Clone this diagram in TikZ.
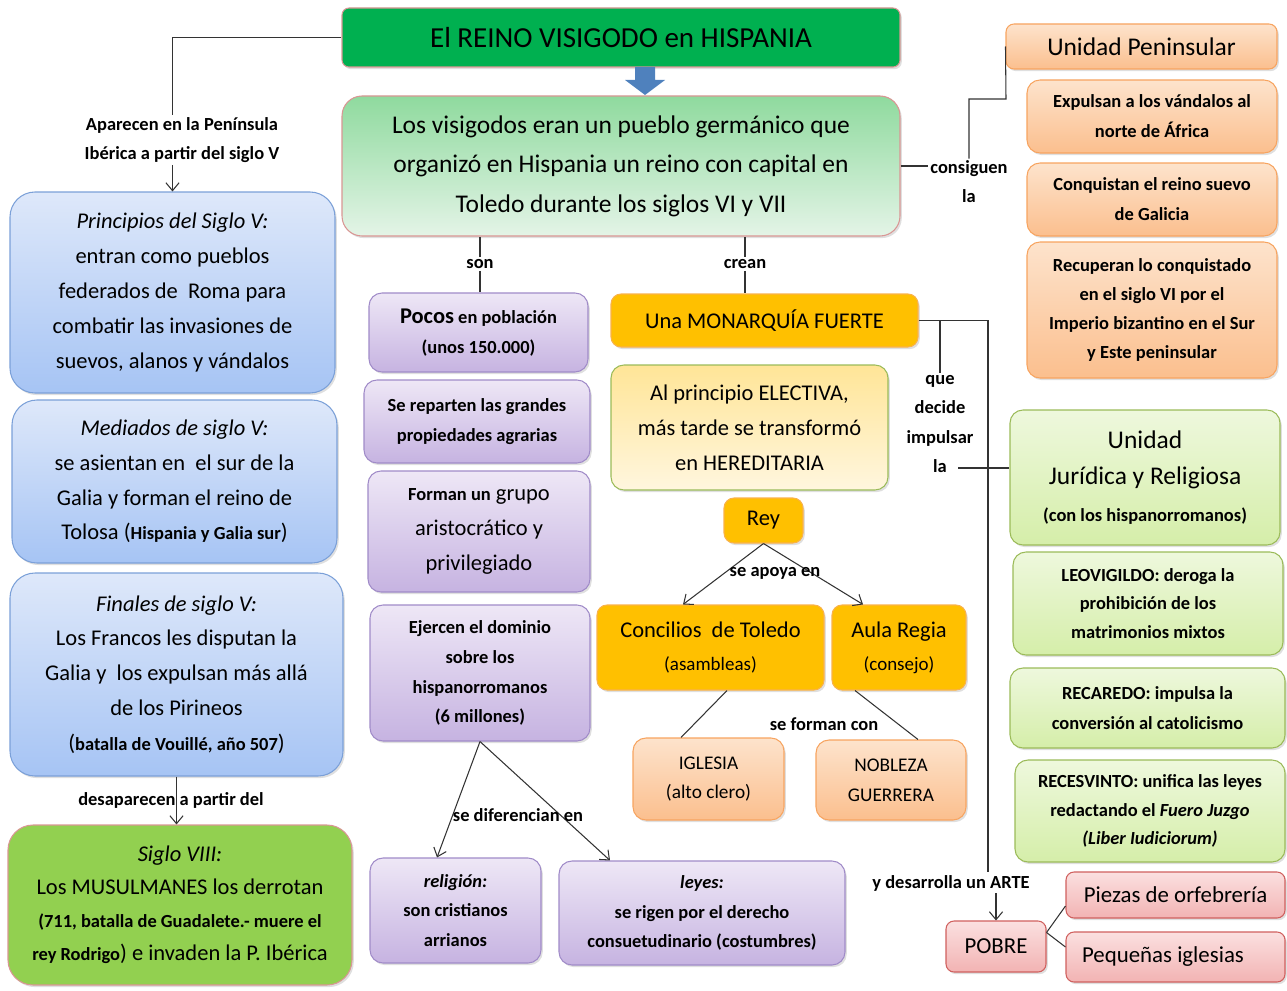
\documentclass[tikz,border=0pt]{standalone}
\usepackage{fontspec}
\setmainfont{Carlito}
\usetikzlibrary{shadows,arrows.meta}

\definecolor{titlegreen}{HTML}{00B050}
\definecolor{arrowblue}{HTML}{4F81BD}
\definecolor{rimred}{HTML}{D99694}
\definecolor{maintop}{HTML}{8FDA9E}
\definecolor{mainbot}{HTML}{E4F4E7}
\definecolor{bluetop}{HTML}{DEE8FA}
\definecolor{bluebot}{HTML}{A6C4F4}
\definecolor{bluerim}{HTML}{7BA0D8}
\definecolor{leafgreen}{HTML}{92D050}
\definecolor{lilactop}{HTML}{EEE7F6}
\definecolor{lilacbot}{HTML}{C6B3E1}
\definecolor{lilacrim}{HTML}{A08BC8}
\definecolor{gold}{HTML}{FFC000}
\definecolor{goldrim}{HTML}{F9B24A}
\definecolor{creamtop}{HTML}{FFE597}
\definecolor{creambot}{HTML}{FFF6DE}
\definecolor{olive}{HTML}{9BBB59}
\definecolor{peachtop}{HTML}{FDE3CC}
\definecolor{peachbot}{HTML}{FBBF8E}
\definecolor{peachrim}{HTML}{F7A460}
\definecolor{limetop}{HTML}{EEF8DD}
\definecolor{limebot}{HTML}{D5EEA9}
\definecolor{rosetop}{HTML}{FBE0E0}
\definecolor{rosebot}{HTML}{F2B3B3}
\definecolor{roserim}{HTML}{D0605E}

\newcommand\ftitle{\fontsize{16.5}{20}\selectfont}
\newcommand\fbig{\fontsize{14.5}{22.4}\selectfont}
\newcommand\fmid{\fontsize{12.8}{19.8}\selectfont}
\newcommand\fsml{\fontsize{10.5}{17}\selectfont\bfseries}
\newcommand\flbl{\fontsize{10.5}{16.6}\selectfont\bfseries}

\begin{document}
\begin{tikzpicture}[x=0.02cm, y=-0.02cm, line width=0.6pt, >={Straight Barb[length=4.5pt,width=7.5pt]},
  dims/.style 2 args={minimum width=#1*0.02cm, minimum height=#2*0.02cm}]
	\tikzstyle{box}=[draw, rounded corners=0.26cm, align=center, inner sep=0pt,
	  drop shadow={opacity=0.25, shadow xshift=1pt, shadow yshift=-1.2pt}]
	\tikzstyle{bluebox}=[box, top color=bluetop, bottom color=bluebot, draw=bluerim, rounded corners=0.5cm, font=\fmid]
	\tikzstyle{lilacbox}=[box, top color=lilactop, bottom color=lilacbot, draw=lilacrim, font=\fsml]
	\tikzstyle{goldbox}=[box, fill=gold, draw=goldrim, rounded corners=0.2cm, font=\fmid]
	\tikzstyle{peachbox}=[box, top color=peachtop, bottom color=peachbot, draw=peachrim, font=\fsml]
	\tikzstyle{limebox}=[box, top color=limetop, bottom color=limebot, draw=olive, font=\fsml]
	\tikzstyle{rosebox}=[box, top color=rosetop, bottom color=rosebot, draw=roserim, rounded corners=0.16cm, font=\fontsize{13}{16}\selectfont]
	\tikzstyle{lbl}=[font=\flbl, align=center, inner sep=1pt]
	\tikzstyle{link}=[draw=black!80]

	\useasboundingbox (0,0) rectangle (1287,990);

	% Title and main idea
	\node[box, fill=titlegreen, draw=rimred, rounded corners=0.14cm, dims={558}{59}, font=\ftitle] (title) at (621,37.5) {El REINO VISIGODO en HISPANIA};
	\fill[arrowblue] (635,67) -- (655,67) -- (655,80) -- (665,80) -- (645,95) -- (625,80) -- (635,80) -- cycle;
	\node[box, top color=maintop, bottom color=mainbot, draw=rimred, rounded corners=0.4cm, dims={558}{140}, font=\fbig] (main) at (621,166)
	  {Los visigodos eran un pueblo germánico que\\organizó en Hispania un reino con capital en\\Toledo durante los siglos VI y VII};

	% Left column: the centuries
	\node[bluebox, dims={325}{201}] (P1) at (172.5,292.5)
	  {\textit{Principios del Siglo V:}\\entran como pueblos\\federados de~ Roma para\\combatir las invasiones de\\suevos, alanos y vándalos};
	\node[bluebox, dims={325}{163}] (P2) at (174.5,481.5)
	  {\textit{Mediados de siglo V:}\\se asientan en~ el sur de la\\Galia y forman el reino de\\Tolosa ({\fsml Hispania y Galia sur})};
	\node[bluebox, dims={333}{203}] (P3) at (176.5,674.5)
	  {\textit{Finales de siglo V:}\\Los Francos les disputan la\\Galia y~ los expulsan más allá\\de los Pirineos\\({\fsml batalla de Vouillé, año 507})};
	\node[box, fill=leafgreen, draw=rimred, rounded corners=0.5cm, dims={344}{160}, font=\fontsize{12.8}{18.7}\selectfont] (P4) at (180,905)
	  {\textit{Siglo VIII:}\\Los MUSULMANES los derrotan\\{\fsml (711, batalla de Guadalete.- muere el}\\{\fsml rey Rodrigo}) e invaden la P. Ibérica};

	\node[lbl] (lblap) at (182,140) {Aparecen en la Península\\Ibérica a partir del siglo V};
	\draw[link] (title.west) -| (P1.north |- lblap.north);
	\draw[link,->] (P1.north |- lblap.south) -- (P1.north);
	\draw[link,->] (P3.south) -- (P3.south |- P4.north);
	\node[lbl] (lbldes) at (171,800) {desaparecen a partir del};

	% Middle column: the people
	\node[lilacbox, dims={219}{79}] (U1) at (478.5,332.5) {{\fmid Pocos} en población\\(unos 150.000)};
	\node[lilacbox, dims={226}{83}] (U2) at (477,421.5) {Se reparten las grandes\\propiedades agrarias};
	\node[lilacbox, dims={222}{121}, font=\fmid] (U3) at (479,531.5) {{\fsml Forman un} grupo\\aristocrático y\\privilegiado};
	\node[lilacbox, dims={220}{136}] (U4) at (480,673) {Ejercen el dominio\\sobre los\\hispanorromanos\\(6 millones)};
	\node[lilacbox, dims={171}{105}] (U5) at (455.5,910.5) {\textit{religión:}\\son cristianos\\arrianos};
	\node[lilacbox, dims={286}{104}] (U6) at (702,913) {\textit{leyes:}\\se rigen por el derecho\\consuetudinario (costumbres)};

	\node[lbl] (lblson) at (480,264) {son};
	\draw[link] (lblson) -- (lblson |- main.south);
	\draw[link] (lblson) -- (lblson |- U1.north);
	\draw[link,->] (U4.south) -- ([xshift=-0.37cm]U5.north);
	\draw[link,->] (U4.south) -- ([xshift=-1.84cm]U6.north);
	\node[lbl] (lbldif) at (518,815) {se diferencian en};

	% The monarchy
	\node[goldbox, dims={307}{53}] (M1) at (764.5,320.5) {Una MONARQUÍA FUERTE};
	\node[box, top color=creamtop, bottom color=creambot, draw=olive, dims={277}{125}, font=\fmid] (M2) at (749.5,427.5)
	  {Al principio ELECTIVA,\\más tarde se transformó\\en HEREDITARIA};
	\node[goldbox, dims={79}{45}] (Rey) at (763.5,520.5) {Rey};
	\node[goldbox, dims={227}{85}, font=\fontsize{12.8}{18.7}\selectfont] (C1) at (710.5,647.5)
	  {Concilios~ de Toledo\\{\fontsize{10.8}{12}\selectfont (asambleas)}};
	\node[goldbox, dims={134}{85}, font=\fontsize{12.8}{18.7}\selectfont] (C2) at (899,647.5)
	  {Aula Regia\\{\fontsize{10.8}{12}\selectfont (consejo)}};
	\node[peachbox, dims={151}{82}, font=\fontsize{11}{17}\selectfont] (I1) at (708.5,779) {IGLESIA\\(alto clero)};
	\node[peachbox, dims={150}{80}, font=\fontsize{11}{17}\selectfont] (I2) at (891,780) {NOBLEZA\\GUERRERA};

	\node[lbl] (lblcrean) at (745,264) {crean};
	\draw[link] (lblcrean) -- (lblcrean |- main.south);
	\draw[link] (lblcrean) -- (lblcrean |- M1.north);
	\draw[link,->] (Rey.south) -- ([xshift=-0.55cm]C1.north);
	\draw[link,->] (Rey.south) -- ([xshift=-0.72cm]C2.north);
	\node[lbl] (lblapoya) at (775,573) {se apoya en};
	\draw[link] ([xshift=0.33cm]C1.south) -- ([xshift=-0.55cm]I1.north);
	\draw[link] ([xshift=-0.88cm]C2.south) -- ([xshift=0.54cm]I2.north);
	\node[lbl] (lblforman) at (824,724) {se forman con};

	% Right column: unity
	\node[peachbox, dims={271}{45}, rounded corners=0.16cm, font=\fontsize{14.5}{16}\selectfont] (UP) at (1141.5,46.5) {Unidad Peninsular};
	\node[peachbox, dims={250}{73}] (R1) at (1152,116.5) {Expulsan a los vándalos al\\norte de África};
	\node[peachbox, dims={250}{73}] (R2) at (1152,199.5) {Conquistan el reino suevo\\de Galicia};
	\node[peachbox, dims={250}{136}, font=\fontsize{10.5}{16.6}\selectfont\bfseries] (R3) at (1152,310)
	  {Recuperan lo conquistado\\en el siglo VI por el\\Imperio bizantino en el Sur\\y Este peninsular};

	\node[lbl] (lblcons) at (969,182) {consiguen\\la};
	\coordinate (kUP) at (1006,99);
	\draw[link] (main.east) -- (lblcons.west |- main.east);
	\draw[link] (lblcons.north) |- (kUP) -- (UP.west);

	\node[limebox, dims={270}{135}, font=\fontsize{14.5}{21}\selectfont] (J0) at (1145,477.5)
	  {Unidad\\Jurídica y Religiosa\\{\fsml (con los hispanorromanos)}};
	\node[limebox, dims={270}{103}, font=\fontsize{10.5}{16.4}\selectfont\bfseries] (J1) at (1148,603.5)
	  {LEOVIGILDO: deroga la\\prohibición de los\\matrimonios mixtos};
	\node[limebox, dims={275}{80}] (J2) at (1147.5,708) {RECAREDO: impulsa la\\conversión al catolicismo};
	\node[limebox, dims={270}{102}, font=\fontsize{10.5}{16.4}\selectfont\bfseries] (J3) at (1150,811)
	  {RECESVINTO: unifica las leyes\\redactando el \textit{Fuero Juzgo}\\\textit{(Liber Iudiciorum)}};

	\node[lbl] (lblque) at (940,424) {que\\decide\\impulsar\\la};
	\coordinate (kLa) at (958,468);
	\coordinate (kArte) at (988,872);
	\draw[link] (M1.east) -| (kArte);
	\draw[link] (lblque.north |- M1.east) -- (lblque.north);
	\draw[link] (kLa) -- (kLa -| J0.west);

	% Art
	\node[rosebox, dims={100}{51}] (POBRE) at (996,946.5) {POBRE};
	\node[rosebox, dims={219}{46}] (A1) at (1175.5,895) {Piezas de orfebrería};
	\node[rosebox, dims={219}{50}] (A2) at (1175.5,957) {Pequeñas iglesias\hspace*{0.5cm}};
	\node[lbl] (lblarte) at (951,883) {y desarrolla un ARTE};
	\draw[link,->] (lblarte.south -| POBRE.north) -- (POBRE.north);
	\draw[link] ([yshift=0.28cm]POBRE.east) -- ([yshift=-0.22cm]A1.west);
	\draw[link] ([yshift=0.28cm]POBRE.east) -- ([yshift=0.2cm]A2.west);
\end{tikzpicture}
\end{document}
